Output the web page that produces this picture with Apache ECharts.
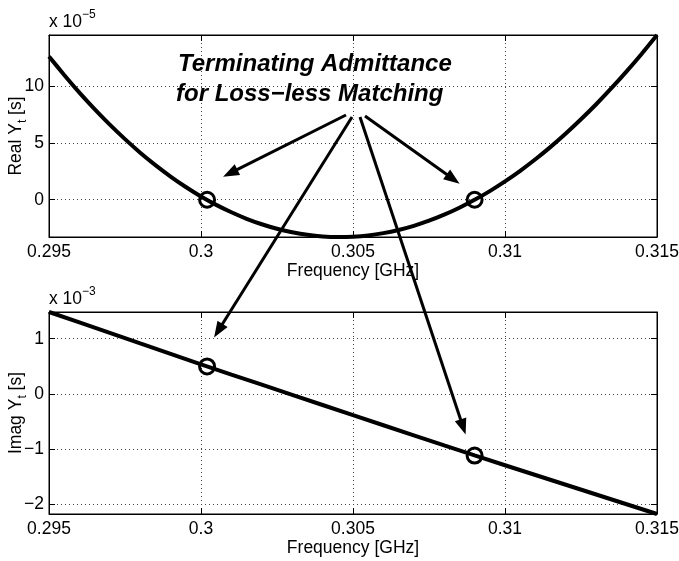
<!DOCTYPE html>
<html>
<head>
<meta charset="utf-8">
<script src="https://cdn.jsdelivr.net/npm/echarts@6/dist/echarts.min.js"></script>
<style>
  html, body { margin: 0; padding: 0; background: #fff; }
  #chart { width: 679px; height: 561px; }
</style>
</head>
<body>
<div id="chart"></div>
<script>
// Frequency sweep (GHz) and the real part of the terminating admittance (x 1e-5 S)
const freqFine = [
  0.2950, 0.2955, 0.2960, 0.2965, 0.2970, 0.2975, 0.2980, 0.2985, 0.2990, 0.2995,
  0.3000, 0.3005, 0.3010, 0.3015, 0.3020, 0.3025, 0.3030, 0.3035, 0.3040, 0.3045,
  0.3050, 0.3055, 0.3060, 0.3065, 0.3070, 0.3075, 0.3080, 0.3085, 0.3090, 0.3095,
  0.3100, 0.3105, 0.3110, 0.3115, 0.3120, 0.3125, 0.3130, 0.3135, 0.3140, 0.3145,
  0.3150
];
const realYt = [
  12.58, 10.95, 9.40, 7.95, 6.59, 5.32, 4.13, 3.04, 2.04, 1.12,
  0.29, -0.45, -1.10, -1.67, -2.15, -2.55, -2.85, -3.08, -3.22, -3.27,
  -3.24, -3.13, -2.93, -2.65, -2.29, -1.84, -1.31, -0.70, -0.01, 0.76,
  1.61, 2.54, 3.55, 4.64, 5.81, 7.06, 8.38, 9.79, 11.27, 12.82,
  14.46
];

// Imaginary part of the terminating admittance (x 1e-3 S)
const freqCoarse = [
  0.295, 0.296, 0.297, 0.298, 0.299, 0.300, 0.301, 0.302, 0.303, 0.304,
  0.305, 0.306, 0.307, 0.308, 0.309, 0.310, 0.311, 0.312, 0.313, 0.314,
  0.315
];
const imagYt = [
  1.485, 1.295, 1.105, 0.915, 0.727, 0.535, 0.350, 0.166, -0.018, -0.202,
  -0.387, -0.570, -0.753, -0.936, -1.118, -1.295, -1.472, -1.649, -1.826, -2.003,
  -2.180
];

// Loss-less matching points (Real Yt = 0)
const matchFreq = [0.3002, 0.3090];
const matchReal = [0, 0];
const matchImag = [0.498, -1.12];

// Axis settings
const freqMin = 0.295, freqMax = 0.315, freqStep = 0.005;
const realExp = '\u22125';
const imagExp = '\u22123';
const xTitle = 'Frequency [GHz]';
const noteLines = ['Terminating Admittance', 'for Loss\u2212less Matching'];

const FONT = '"Liberation Sans", Arial, Helvetica, sans-serif';
const FS = 17.5;
const fmtNum = v => String(+(+v).toFixed(4)).replace('-', '\u2212');

const gridBoxes = [
  { left: 49, top: 35, width: 608, height: 202 },
  { left: 49, top: 312, width: 608, height: 202 }
];

function xAxes(gi) {
  const common = {
    type: 'value', gridIndex: gi, min: freqMin, max: freqMax, interval: freqStep,
    axisLine: { show: true, onZero: false, lineStyle: { color: '#000', width: 1 } },
    axisTick: { show: true, inside: true, length: 6, lineStyle: { color: '#000' } }
  };
  return [
    Object.assign({}, common, {
      position: 'bottom',
      axisLabel: { show: true, color: '#000', fontSize: FS, fontFamily: FONT, margin: 6, formatter: fmtNum },
      splitLine: { show: true, lineStyle: { color: '#444', width: 1, type: [1, 3] } },
      name: xTitle, nameLocation: 'middle', nameGap: 25, nameMoveOverlap: false,
      nameTextStyle: { color: '#000', fontSize: FS, fontFamily: FONT }
    }),
    Object.assign({}, common, {
      position: 'top', axisLabel: { show: false }, splitLine: { show: false }
    })
  ];
}

function yAxes(gi, vals, label) {
  const lo = Math.min(...vals), hi = Math.max(...vals);
  const common = {
    type: 'value', gridIndex: gi, min: lo, max: hi, splitNumber: 4,
    axisLine: { show: true, onZero: false, lineStyle: { color: '#000', width: 1 } },
    axisTick: { show: true, inside: true, length: 6, lineStyle: { color: '#000' } }
  };
  return [
    Object.assign({}, common, {
      position: 'left',
      axisLabel: {
        show: true, color: '#000', fontSize: FS, fontFamily: FONT, margin: 5,
        showMinLabel: false, showMaxLabel: false, formatter: fmtNum
      },
      splitLine: { show: true, lineStyle: { color: '#444', width: 1, type: [1, 3] } },
      name: '{a|' + label + ' Y}{s|t}{a| [s]}', nameLocation: 'middle', nameGap: 20, nameRotate: 90,
      nameMoveOverlap: false,
      nameTextStyle: {
        color: '#000', fontFamily: FONT,
        rich: {
          a: { fontSize: FS, fontFamily: FONT, color: '#000', lineHeight: 26 },
          s: { fontSize: 12, fontFamily: FONT, color: '#000', lineHeight: 14, verticalAlign: 'bottom' }
        }
      }
    }),
    Object.assign({}, common, {
      position: 'right', axisLabel: { show: false }, splitLine: { show: false }
    })
  ];
}

const option = {
  animation: false,
  backgroundColor: '#fff',
  grid: gridBoxes.map(g => Object.assign({
    show: true, borderColor: '#000', borderWidth: 1, backgroundColor: 'transparent',
    containLabel: false, outerBoundsMode: 'none'
  }, g)),
  xAxis: [...xAxes(0), ...xAxes(1)],
  yAxis: [...yAxes(0, realYt, 'Real'), ...yAxes(1, imagYt, 'Imag')],
  series: [
    {
      type: 'line', xAxisIndex: 0, yAxisIndex: 0, showSymbol: false, smooth: 0.2,
      data: freqFine.map((f, i) => [f, realYt[i]]),
      lineStyle: { color: '#000', width: 4 }, z: 3
    },
    {
      type: 'scatter', xAxisIndex: 0, yAxisIndex: 0, symbol: 'circle', symbolSize: 15,
      data: matchFreq.map((f, i) => [f, matchReal[i]]),
      itemStyle: { color: 'rgba(0,0,0,0)', opacity: 1, borderColor: '#000', borderWidth: 3 }, z: 4
    },
    {
      type: 'line', xAxisIndex: 2, yAxisIndex: 2, showSymbol: false,
      data: freqCoarse.map((f, i) => [f, imagYt[i]]),
      lineStyle: { color: '#000', width: 4 }, z: 3
    },
    {
      type: 'scatter', xAxisIndex: 2, yAxisIndex: 2, symbol: 'circle', symbolSize: 15,
      data: matchFreq.map((f, i) => [f, matchImag[i]]),
      itemStyle: { color: 'rgba(0,0,0,0)', opacity: 1, borderColor: '#000', borderWidth: 3 }, z: 4
    }
  ]
};

const chart = echarts.init(document.getElementById('chart'), null, { renderer: 'canvas' });
chart.setOption(option);

// Annotation: text block with arrows pointing at the matching points
function arrow(s, t, id) {
  const dx = t[0] - s[0], dy = t[1] - s[1];
  const len = Math.hypot(dx, dy);
  const ux = dx / len, uy = dy / len;
  const L = 16, W = 6;
  const bx = t[0] - ux * L, by = t[1] - uy * L;
  return [
    { type: 'line', id: id + 'l', z: 50, shape: { x1: s[0], y1: s[1], x2: bx + ux * 2, y2: by + uy * 2 },
      style: { stroke: '#000', lineWidth: 3 } },
    { type: 'polygon', id: id + 'h', z: 50,
      shape: { points: [t, [bx - uy * W, by + ux * W], [bx + uy * W, by - ux * W]] },
      style: { fill: '#000' } }
  ];
}

const pTop = matchFreq.map((f, i) => chart.convertToPixel({ seriesIndex: 1 }, [f, matchReal[i]]));
const pBot = matchFreq.map((f, i) => chart.convertToPixel({ seriesIndex: 3 }, [f, matchImag[i]]));

const expRich = {
  m: { fontSize: FS, fontFamily: FONT, lineHeight: 26 },
  e: { fontSize: 12, fontFamily: FONT, lineHeight: 12, verticalAlign: 'top' }
};
const graphics = [
  { type: 'text', id: 't1', left: 49, top: 9, z: 40,
    style: { text: '{m|x 10}{e|' + realExp + '}', font: FS + 'px ' + FONT, fill: '#000', rich: expRich } },
  { type: 'text', id: 't2', left: 49, top: 286, z: 40,
    style: { text: '{m|x 10}{e|' + imagExp + '}', font: FS + 'px ' + FONT, fill: '#000', rich: expRich } },
  { type: 'text', id: 'n1', x: 178, y: 64, z: 40,
    style: { text: noteLines[0], font: 'italic bold 24px ' + FONT, fill: '#000', verticalAlign: 'middle', align: 'left' } },
  { type: 'text', id: 'n2', x: 176, y: 94, z: 40,
    style: { text: noteLines[1], font: 'italic bold 24px ' + FONT, fill: '#000', verticalAlign: 'middle', align: 'left' } },
  ...arrow([346, 115], [pTop[0][0] + 16, pTop[0][1] - 23], 'a1'),
  ...arrow([365, 116], [pTop[1][0] - 15, pTop[1][1] - 16], 'a2'),
  ...arrow([352, 117], [pBot[0][0] + 7, pBot[0][1] - 29], 'a3'),
  ...arrow([360, 117], [pBot[1][0] - 9, pBot[1][1] - 21], 'a4')
];
chart.setOption({ graphic: graphics });
</script>
</body>
</html>
